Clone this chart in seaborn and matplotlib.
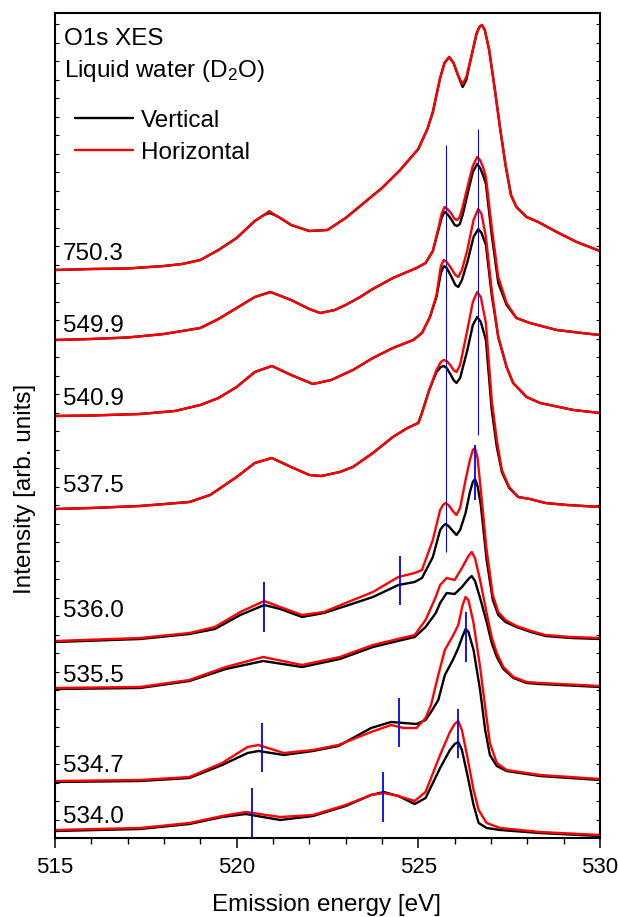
import numpy as np
import pandas as pd
import matplotlib
matplotlib.use("Agg")
import matplotlib.pyplot as plt
from matplotlib.ticker import MultipleLocator
import seaborn as sns

# ---------------- data (emission energy in eV, intensity in arb. units) ----------------
excitation = ["750.3", "549.9", "540.9", "537.5", "536.0", "535.5", "534.7", "534.0"]

E1 = [515, 516, 517, 518, 518.5, 519, 519.5, 520, 520.5, 520.75, 520.9, 521.05, 521.2, 521.5, 522, 522.5,
      523, 523.5, 524, 524.5, 525, 525.25, 525.4, 525.6, 525.72, 525.85, 525.97, 526.1, 526.22, 526.32,
      526.45, 526.6, 526.68, 526.75, 526.83, 526.95, 527.1, 527.25, 527.4, 527.55, 527.7, 527.98, 528.3,
      528.81, 529.36, 530]
V1 = [568, 569, 569.5, 572, 574, 578, 588, 600, 617, 623, 625, 623, 620, 613, 607, 608, 620, 635, 650, 668,
      689, 709, 726, 760, 775, 781, 775, 762, 751, 758, 780, 804, 811, 813, 808, 788, 750, 710, 673, 643,
      631, 621, 616, 606, 596, 587]
H1 = [568, 569, 569.5, 572, 574, 578, 588, 600, 617, 623, 627, 623, 620, 613, 607, 608, 620, 635, 650, 668,
      689, 709, 726, 760, 775, 781, 775, 762, 754, 761, 780, 804, 811, 813, 808, 788, 750, 710, 673, 643,
      631, 621, 616, 606, 596, 587]

E2 = [515, 516, 517, 518, 519, 519.5, 520, 520.5, 520.93, 521.5, 522, 522.3, 522.7, 523, 523.4, 523.7,
      524.3, 524.95, 525.2, 525.4, 525.56, 525.64, 525.72, 525.8, 525.9, 526.0, 526.07, 526.14, 526.22,
      526.38, 526.5, 526.62, 526.7, 526.78, 526.86, 527.02, 527.2, 527.43, 527.7, 528.07, 528.81, 529.5, 530]
V2 = [498, 499, 500.5, 504, 510, 519, 530, 541, 546, 538, 529, 525, 528, 533, 541, 548, 560, 570, 575, 587,
      609, 620, 626, 624, 619, 613, 612, 614, 623, 648, 666, 674, 670, 663, 654, 603, 555, 533, 520, 515,
      508, 505, 503]
H2 = [498, 499, 500.5, 504, 510, 519, 530, 541, 546, 538, 529, 525, 528, 533, 541, 548, 560, 570, 575, 587,
      611, 624, 631, 629, 625, 619, 618, 621, 631, 655, 672, 681, 678, 671, 661, 611, 561, 535, 520, 515,
      508, 505, 503]

E3 = [515, 516, 517.34, 518.3, 519, 519.5, 520, 520.5, 520.97, 521.5, 522.1, 522.6, 523.2, 523.75, 524.3,
      524.86, 525.1, 525.32, 525.5, 525.62, 525.7, 525.78, 525.9, 526.02, 526.1, 526.2, 526.35, 526.52,
      526.65, 526.74, 526.86, 527.02, 527.2, 527.43, 527.61, 527.98, 528.35, 529.27, 530]
V3 = [422, 422.5, 424, 427, 433, 440, 451, 466, 472, 463, 454, 458, 468, 480, 490, 498, 505, 521, 541, 565,
      572, 570, 562, 553, 551, 558, 576, 601, 609, 605, 593, 543, 501, 471, 455, 441, 435, 428, 425]
H3 = [422, 422.5, 424, 427, 433, 440, 451, 466, 472, 463, 454, 458, 468, 480, 490, 498, 505, 521, 543, 572,
      578, 576, 570, 563, 561, 568, 588, 618, 629, 624, 601, 548, 501, 471, 455, 441, 435, 428, 425]

E4 = [515, 516, 517.34, 518.7, 519.27, 520, 520.5, 520.97, 521.5, 522.0, 522.33, 522.84, 523.2, 523.75,
      524.3, 524.7, 525.0, 525.1, 525.3, 525.5, 525.62, 525.7, 525.78, 525.88, 525.97, 526.05, 526.15,
      526.35, 526.5, 526.62, 526.72, 526.86, 527.02, 527.16, 527.3, 527.5, 527.75, 528.07, 528.5, 529.1, 530]
V4 = [329, 330, 332, 336, 343, 361, 375, 380, 371, 363, 362, 366, 371, 385, 401, 410, 415, 425, 448, 466,
      471, 472, 470, 464, 458, 455, 460, 488, 513, 521, 516, 498, 428, 391, 366, 350, 341, 339, 335, 333, 331]
H4 = [329, 330, 332, 336, 343, 361, 375, 380, 371, 363, 362, 366, 371, 385, 401, 410, 415, 425, 448, 468,
      476, 478, 477, 473, 468, 466, 473, 508, 536, 546, 541, 515, 438, 398, 368, 351, 341, 339, 335, 333, 331]

E5 = [515, 517.34, 518.7, 519.4, 520.1, 520.76, 521.2, 521.8, 522.4, 523.0, 523.75, 524.45, 524.9, 525.1,
      525.4, 525.6, 525.68, 525.75, 525.83, 525.95, 526.05, 526.15, 526.3, 526.42, 526.5, 526.56, 526.63,
      526.72, 526.88, 527.05, 527.2, 527.4, 527.7, 528.1, 528.5, 529.2, 530]
V5 = [196, 199, 204, 209, 223, 233, 229, 221, 225, 232, 241, 253, 256, 260, 281, 308, 312, 314, 312, 307,
      303, 308, 325, 346, 356, 359, 352, 333, 278, 238, 223, 216, 211, 206, 202, 200, 199]
H5 = [197, 200, 205, 211, 226, 237, 231, 223, 226, 235, 246, 261, 265, 268, 298, 328, 333, 335, 333, 327,
      323, 330, 358, 378, 388, 390, 380, 348, 288, 243, 226, 218, 212, 207, 203, 201, 200]

E6 = [515, 517.34, 518.7, 519.7, 520.73, 521.8, 522.84, 523.75, 524.55, 524.9, 525.2, 525.48, 525.6,
      525.78, 526.0, 526.2, 526.38, 526.47, 526.56, 526.7, 526.88, 527.02, 527.16, 527.34, 527.62, 527.98,
      528.35, 530]
V6 = [149, 150, 157, 169, 177, 171, 179, 191, 198, 201, 211, 225, 235, 245, 244, 251, 259, 262, 257, 240,
      216, 195, 181, 169, 160, 155, 154, 151]
H6 = [150, 151, 158, 171, 181, 173, 181, 193, 200, 203, 218, 241, 253, 260, 258, 270, 282, 286, 280, 258,
      225, 201, 185, 171, 161, 156, 155, 152]

E7 = [515, 517.34, 518.7, 519.6, 520.3, 520.6, 521.3, 522.1, 522.8, 523.7, 524.25, 524.6, 524.95, 525.2,
      525.35, 525.55, 525.73, 525.95, 526.1, 526.22, 526.3, 526.38, 526.52, 526.7, 526.84, 526.97, 527.16,
      527.43, 528.35, 530]
V7 = [56, 57, 60, 73, 85, 87, 83, 87, 92, 110, 116, 115, 114, 118, 126, 138, 163, 178, 190, 202, 209, 206,
      188, 148, 108, 83, 72, 67, 62, 58]
H7 = [57, 58, 61, 75, 91, 93, 85, 88, 93, 106, 113, 110, 110, 120, 133, 163, 188, 202, 213, 233, 241, 238,
      215, 171, 131, 95, 75, 68, 63, 59]

E8 = [515, 517.34, 518.7, 519.6, 520.25, 521.2, 522.1, 523.0, 523.7, 524.05, 524.45, 524.9, 525.2, 525.6,
      525.87, 526.0, 526.1, 526.2, 526.35, 526.52, 526.66, 526.88, 527.25, 528.35, 530]
V8 = [7, 9, 14, 21, 24, 18, 22, 32, 43, 46, 42, 34, 40, 70, 88, 94, 96, 88, 63, 33, 15, 10, 8, 5, 2]
H8 = [8, 10, 15, 22, 26, 21, 23, 33, 43, 45, 42, 37, 46, 83, 106, 114, 117, 108, 81, 48, 28, 15, 10, 6, 3]

energies = [E1, E2, E3, E4, E5, E6, E7, E8]
vertical = [V1, V2, V3, V4, V5, V6, V7, V8]
horizontal = [H1, H2, H3, H4, H5, H6, H7, H8]

# blue peak markers: energy, lower and upper intensity
long_marker_E = [525.75, 526.65]
long_marker_lo = [286, 403]
long_marker_hi = [693, 709]
short_marker_E = [520.75, 524.5, 526.56, 520.69, 524.47, 526.3, 520.41, 524.03, 526.1]
short_marker_lo = [206, 233, 338, 66, 91, 176, 0, 16, 80]
short_marker_hi = [256, 282, 393, 115, 140, 226, 50, 66, 129]

# label baselines (intensity units)
label_y = [578, 506, 433, 346, 221, 156, 66, 15]

# ---------------- build table ----------------
frames = []
for name, E, V, H in zip(excitation, energies, vertical, horizontal):
    frames.append(pd.DataFrame({"E": E, "I": V, "spec": name, "pol": "Vertical"}))
    frames.append(pd.DataFrame({"E": E, "I": H, "spec": name, "pol": "Horizontal"}))
df = pd.concat(frames, ignore_index=True)

# ---------------- style ----------------
sns.set_style("ticks")
plt.rcParams["font.family"] = ["Liberation Sans", "DejaVu Sans"]
plt.rcParams["mathtext.fontset"] = "custom"
plt.rcParams["mathtext.rm"] = "Liberation Sans"
plt.rcParams["mathtext.it"] = "Liberation Sans:italic"
for key in ["text.color", "axes.labelcolor", "xtick.color", "ytick.color", "axes.edgecolor"]:
    plt.rcParams[key] = "black"
plt.rcParams["ytick.direction"] = "in"
plt.rcParams["xtick.direction"] = "out"

W, Hh = 618, 917
fig = plt.figure(figsize=(W / 100, Hh / 100), dpi=100)
ax = fig.add_axes([55 / W, (Hh - 838) / Hh, 545 / W, 825 / Hh])

sns.lineplot(data=df, x="E", y="I", hue="pol", units="spec", estimator=None, sort=False,
             hue_order=["Vertical", "Horizontal"],
             palette={"Vertical": "black", "Horizontal": "#ff0000"},
             linewidth=1.7, ax=ax)

ax.vlines(long_marker_E, long_marker_lo, long_marker_hi, colors="#0000ff", linewidth=0.8, zorder=4)
ax.vlines(short_marker_E, short_marker_lo, short_marker_hi, colors="#0000ff", linewidth=1.3, zorder=4)

ax.set_xlim(515, 530)
ax.set_ylim(0, 825)
ax.xaxis.set_major_locator(MultipleLocator(5))
ax.xaxis.set_minor_locator(MultipleLocator(1))
ax.yaxis.set_major_locator(MultipleLocator(18.5))
ax.tick_params(axis="x", which="major", direction="out", length=7.5, width=1.1, labelsize=16, pad=6)
ax.tick_params(axis="x", which="minor", direction="out", length=4, width=1.0)
ax.tick_params(axis="y", which="major", direction="in", left=True, right=True, length=3, width=0.8,
               labelleft=False)
for s in ax.spines.values():
    s.set_linewidth(1.5)
    s.set_color("black")
    s.set_visible(True)

ax.set_xlabel("")
ax.set_ylabel("")
fig.text(327 / W, 1 - 905 / Hh, "Emission energy [eV]", ha="center", va="center", fontsize=17.5)
fig.text(25 / W, 1 - 489 / Hh, "Intensity [arb. units]", ha="center", va="center", rotation=90,
         fontsize=17.5)

ax.text(515.25, 793, "O1s XES", fontsize=17.5, ha="left", va="baseline")
ax.text(515.25, 761, r"Liquid water (D$_\mathregular{2}$O)", fontsize=17.5, ha="left", va="baseline")
for name, yl in zip(excitation, label_y):
    ax.text(515.22, yl, name, fontsize=17.5, ha="left", va="baseline")

handles, labels = ax.get_legend_handles_labels()
ax.legend(handles, labels, loc="upper left", bbox_to_anchor=(0.0367, 0.883), frameon=False,
          fontsize=17.5, handlelength=2.4, handletextpad=0.33, labelspacing=0.42,
          borderpad=0, borderaxespad=0)

fig.savefig("out.png", dpi=100)
